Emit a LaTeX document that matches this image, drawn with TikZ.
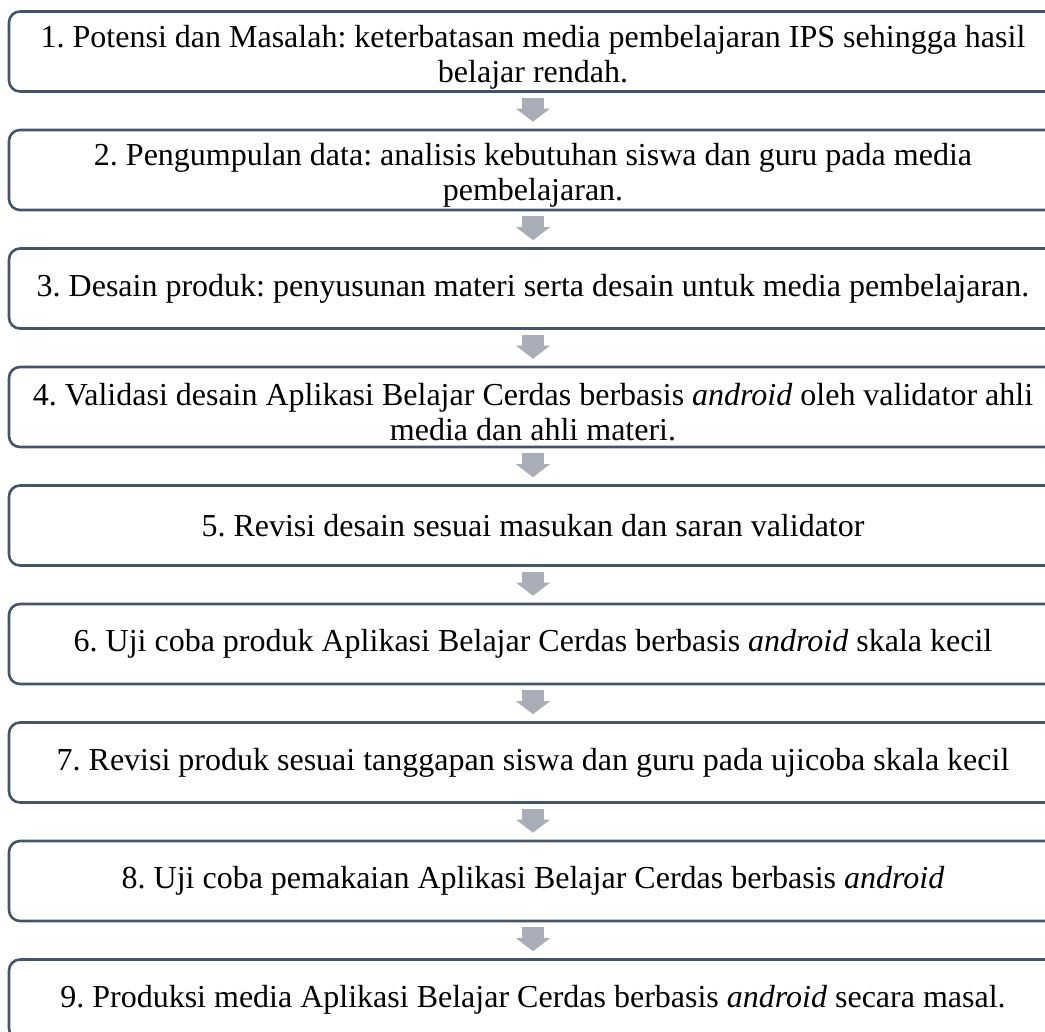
\documentclass[tikz,border=0pt]{standalone}
\usepackage{fontspec}
\setmainfont{Liberation Serif}
\usetikzlibrary{arrows.meta}
\definecolor{boxline}{HTML}{44546A}
\definecolor{flowgray}{HTML}{A9ADB7}
% taller first line so that two-line labels sit a little low in their boxes
\newcommand{\firstlinegap}{\rule{0pt}{33bp}}
\begin{document}
\frenchspacing
\begin{tikzpicture}[x=1bp,y=-1bp,
  stepbox/.style={draw=boxline, line width=2.6bp, rounded corners=11bp,
    minimum width=1048bp, minimum height=80bp, align=center, inner sep=0pt,
    font=\fontsize{32bp}{35bp}\selectfont},
  flow/.style={draw=flowgray, line width=22bp, shorten <=5bp, shorten >=7bp,
    -{Triangle[length=13bp,width=34bp,line width=0pt]}}]
\useasboundingbox (0,0) rectangle (1045,1032);
\clip (0,0) rectangle (1045,1032);

\node[stepbox] (s1) at (533,51.5)
  {\firstlinegap 1. Potensi dan Masalah: keterbatasan media pembelajaran IPS sehingga hasil\\ belajar rendah.};
\node[stepbox] (s2) at (533,170)
  {\firstlinegap 2. Pengumpulan data: analisis kebutuhan siswa dan guru pada media\\ pembelajaran.};
\node[stepbox] (s3) at (533,288.5)
  {3. Desain produk: penyusunan materi serta desain untuk media pembelajaran.};
\node[stepbox] (s4) at (533,407)
  {\firstlinegap 4. Validasi desain Aplikasi Belajar Cerdas berbasis \textit{android} oleh validator ahli\\ media dan ahli materi.};
\node[stepbox] (s5) at (533,525.5)
  {5. Revisi desain sesuai masukan dan saran validator};
\node[stepbox] (s6) at (533,644)
  {6. Uji coba produk Aplikasi Belajar Cerdas berbasis \textit{android} skala kecil};
\node[stepbox] (s7) at (533,762.5)
  {7. Revisi produk sesuai tanggapan siswa dan guru pada ujicoba skala kecil};
\node[stepbox] (s8) at (533,881)
  {8. Uji coba pemakaian Aplikasi Belajar Cerdas berbasis \textit{android}};
\node[stepbox] (s9) at (533,999.5)
  {9. Produksi media Aplikasi Belajar Cerdas berbasis \textit{android} secara masal.};

\foreach \a/\b in {s1/s2,s2/s3,s3/s4,s4/s5,s5/s6,s6/s7,s7/s8,s8/s9}
  \draw[flow] (\a) -- (\b);
\end{tikzpicture}
\end{document}
